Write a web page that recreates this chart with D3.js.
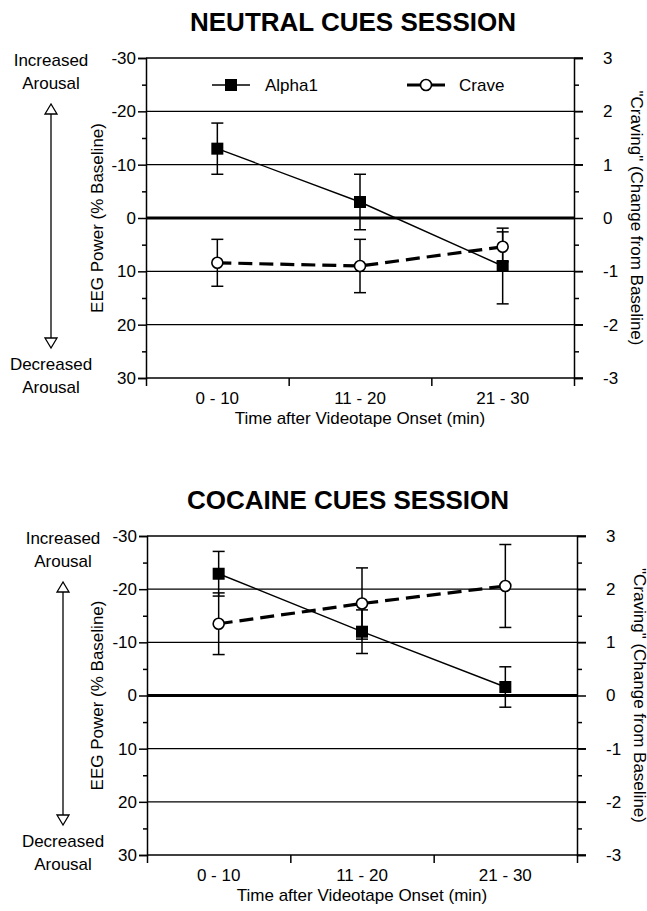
<!DOCTYPE html>
<html>
<head>
<meta charset="utf-8">
<script src="https://cdn.jsdelivr.net/npm/d3@7"></script>
<style>
  body { margin: 0; background: #fff; }
  svg text { font-family: Arial, "Liberation Sans", Helvetica, sans-serif; fill: #000; }
</style>
</head>
<body>
<div id="chart"></div>
<script>
// categories and tick labels
const categories = ["0 - 10", "11 - 20", "21 - 30"];
const eegTicks = [-30, -20, -10, 0, 10, 20, 30];
const eegMinor = [-25, -15, -5, 5, 15, 25];
const craveTicks = [3, 2, 1, 0, -1, -2, -3];
const craveMinor = [2.5, 1.5, 0.5, -0.5, -1.5, -2.5];

// neutral cues session
const neutralAlpha = [-13, -3, 9];
const neutralAlphaErr = [4.8, 5.2, 7.1];
const neutralCrave = [-0.84, -0.9, -0.54];
const neutralCraveErr = [0.44, 0.5, 0.28];

// cocaine cues session
const cocaineAlpha = [-22.9, -12, -1.6];
const cocaineAlphaErr = [4.2, 4.1, 3.8];
const cocaineCrave = [1.35, 1.73, 2.06];
const cocaineCraveErr = [0.58, 0.67, 0.78];

const width = 647, height = 911;

const svg = d3.select("#chart").append("svg")
  .attr("width", width)
  .attr("height", height);

function drawPanel(opt) {
  const { x0, x1, y0, y1, title, titleX, arrowX, alpha, alphaErr, crave, craveErr, legend } = opt;
  const g = svg.append("g");

  const x = d3.scaleBand().domain(categories).range([x0, x1]);
  const xEdge = d3.scaleLinear().domain([0, 3]).range([x0, x1]);
  const y = d3.scaleLinear().domain([-30, 30]).range([y0, y1]);
  const yR = d3.scaleLinear().domain([3, -3]).range([y0, y1]);

  // title
  g.append("text")
    .attr("x", titleX).attr("y", y0 - 36)
    .attr("text-anchor", "middle").attr("dominant-baseline", "central")
    .style("font-size", "26px").style("font-weight", "bold")
    .text(title);

  // horizontal grid lines
  g.selectAll(".grid")
    .data(eegTicks)
    .join("line")
    .attr("x1", x0).attr("x2", d => (d === 0 ? x1 : x1 + 9))
    .attr("y1", d => y(d)).attr("y2", d => y(d))
    .attr("stroke", "#000")
    .attr("stroke-width", d => (d === 0 ? 3 : (Math.abs(d) === 30 ? 1.5 : 1.2)));

  // left axis
  const left = g.append("g")
    .attr("transform", `translate(${x0},0)`)
    .call(d3.axisLeft(y).tickValues(eegTicks).tickSize(8).tickPadding(2).tickFormat(d => String(d)));
  g.append("g")
    .attr("transform", `translate(${x0},0)`)
    .call(d3.axisLeft(y).tickValues(eegMinor).tickSize(4).tickFormat(""))
    .select(".domain").remove();

  // right axis
  const right = g.append("g")
    .attr("transform", `translate(${x1},0)`)
    .call(d3.axisRight(yR).tickValues(craveTicks).tickSize(9).tickPadding(20).tickFormat(d => String(d)));
  g.append("g")
    .attr("transform", `translate(${x1},0)`)
    .call(d3.axisRight(yR).tickValues(craveMinor).tickSize(5).tickFormat(""))
    .select(".domain").remove();

  right.selectAll("text").attr("text-anchor", "start");

  // bottom axis: ticks on band edges, labels at band centers
  g.append("g")
    .attr("transform", `translate(0,${y1})`)
    .call(d3.axisBottom(xEdge).tickValues([0, 1, 2, 3]).tickSize(8).tickFormat(""))
    .select(".domain").remove();
  g.append("g")
    .attr("transform", `translate(0,${y1})`)
    .call(d3.axisBottom(x).tickSize(0).tickPadding(14))
    .select(".domain").remove();

  g.selectAll(".tick text").style("font-size", "17px");
  g.selectAll(".domain, .tick line").attr("stroke", "#000").attr("stroke-width", 1.5);

  // axis titles
  const xc = (x0 + x1) / 2, yc = (y0 + y1) / 2;
  g.append("text")
    .attr("x", xc).attr("y", y1 + 40)
    .attr("text-anchor", "middle").attr("dominant-baseline", "central")
    .style("font-size", "17px")
    .text("Time after Videotape Onset (min)");
  g.append("text")
    .attr("transform", `translate(97,${yc}) rotate(-90)`)
    .attr("text-anchor", "middle").attr("dominant-baseline", "central")
    .style("font-size", "17px")
    .text("EEG Power (% Baseline)");
  g.append("text")
    .attr("transform", `translate(${x1 + 62},${yc}) rotate(90)`)
    .attr("text-anchor", "middle").attr("dominant-baseline", "central")
    .style("font-size", "17px")
    .text("\"Craving\" (Change from Baseline)");

  // arousal arrow + labels
  const lab = [["Increased", y0 + 2], ["Arousal", y0 + 25], ["Decreased", y1 - 14], ["Arousal", y1 + 9]];
  g.selectAll(".arousal")
    .data(lab)
    .join("text")
    .attr("x", arrowX).attr("y", d => d[1])
    .attr("text-anchor", "middle").attr("dominant-baseline", "central")
    .style("font-size", "17px")
    .text(d => d[0]);
  const aTop = y0 + 46, aBot = y1 - 30;
  g.append("line")
    .attr("x1", arrowX).attr("x2", arrowX)
    .attr("y1", aTop + 10).attr("y2", aBot - 10)
    .attr("stroke", "#000").attr("stroke-width", 1.3);
  g.append("path")
    .attr("d", `M${arrowX},${aTop} L${arrowX - 6},${aTop + 10} L${arrowX + 6},${aTop + 10} Z`)
    .attr("fill", "#fff").attr("stroke", "#000").attr("stroke-width", 1.3);
  g.append("path")
    .attr("d", `M${arrowX},${aBot} L${arrowX - 6},${aBot - 10} L${arrowX + 6},${aBot - 10} Z`)
    .attr("fill", "#fff").attr("stroke", "#000").attr("stroke-width", 1.3);

  const cx = (d, i) => x(categories[i]) + x.bandwidth() / 2;
  const capW = 6;

  // error bars
  function errBars(vals, errs, sc) {
    const eg = g.append("g").attr("stroke", "#000").attr("stroke-width", 1.5);
    vals.forEach((v, i) => {
      const px = cx(v, i);
      const ya = sc(v - errs[i]), yb = sc(v + errs[i]);
      eg.append("line").attr("x1", px).attr("x2", px).attr("y1", ya).attr("y2", yb);
      eg.append("line").attr("x1", px - capW).attr("x2", px + capW).attr("y1", ya).attr("y2", ya);
      eg.append("line").attr("x1", px - capW).attr("x2", px + capW).attr("y1", yb).attr("y2", yb);
    });
  }
  errBars(alpha, alphaErr, y);
  errBars(crave, craveErr, yR);

  // crave line (dashed)
  g.append("path")
    .datum(crave)
    .attr("fill", "none").attr("stroke", "#000")
    .attr("stroke-width", 3.2).attr("stroke-dasharray", "14,7")
    .attr("d", d3.line().x(cx).y(d => yR(d)));
  g.selectAll(".cmark")
    .data(crave)
    .join("circle")
    .attr("cx", cx).attr("cy", d => yR(d)).attr("r", 5.5)
    .attr("fill", "#fff").attr("stroke", "#000").attr("stroke-width", 1.6);

  // alpha line (solid)
  g.append("path")
    .datum(alpha)
    .attr("fill", "none").attr("stroke", "#000").attr("stroke-width", 1.4)
    .attr("d", d3.line().x(cx).y(d => y(d)));
  g.selectAll(".amark")
    .data(alpha)
    .join("rect")
    .attr("x", (d, i) => cx(d, i) - 6).attr("y", d => y(d) - 6)
    .attr("width", 12).attr("height", 12)
    .attr("fill", "#000");

  if (legend) {
    const ly = y0 + 27;
    g.append("line").attr("x1", x0 + 66).attr("x2", x0 + 104).attr("y1", ly).attr("y2", ly)
      .attr("stroke", "#000").attr("stroke-width", 1.6);
    g.append("rect").attr("x", x0 + 79).attr("y", ly - 6).attr("width", 12).attr("height", 12).attr("fill", "#000");
    g.append("text").attr("x", x0 + 119).attr("y", ly).attr("dominant-baseline", "central")
      .style("font-size", "17px").text("Alpha1");
    g.append("line").attr("x1", x0 + 261).attr("x2", x0 + 299).attr("y1", ly).attr("y2", ly)
      .attr("stroke", "#000").attr("stroke-width", 3);
    g.append("circle").attr("cx", x0 + 280).attr("cy", ly).attr("r", 5.5)
      .attr("fill", "#fff").attr("stroke", "#000").attr("stroke-width", 1.6);
    g.append("text").attr("x", x0 + 313).attr("y", ly).attr("dominant-baseline", "central")
      .style("font-size", "17px").text("Crave");
  }
}

drawPanel({
  x0: 146, x1: 574, y0: 58, y1: 378,
  title: "NEUTRAL CUES SESSION", titleX: 353, arrowX: 51,
  alpha: neutralAlpha, alphaErr: neutralAlphaErr,
  crave: neutralCrave, craveErr: neutralCraveErr,
  legend: true
});

drawPanel({
  x0: 147, x1: 577, y0: 536, y1: 855,
  title: "COCAINE CUES SESSION", titleX: 348, arrowX: 63,
  alpha: cocaineAlpha, alphaErr: cocaineAlphaErr,
  crave: cocaineCrave, craveErr: cocaineCraveErr,
  legend: false
});
</script>
</body>
</html>
